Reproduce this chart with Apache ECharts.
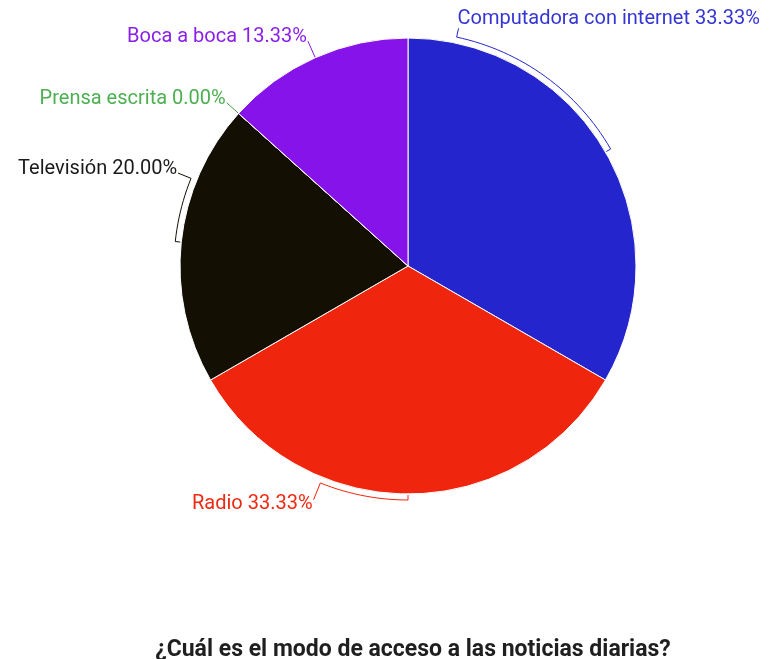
<!DOCTYPE html>
<html>
<head>
<meta charset="utf-8">
<script src="https://cdn.jsdelivr.net/npm/echarts@6/dist/echarts.min.js"></script>
<style>
html,body{margin:0;padding:0;background:#fff;}
#chart{width:778px;height:659px;}
</style>
</head>
<body>
<div id="chart"></div>
<script>
// ---- data ----
const categories = ['Computadora con internet', 'Radio', 'Televisión', 'Prensa escrita', 'Boca a boca'];
const responses = [5, 5, 3, 0, 2];
const sliceColors = ['#2525CE', '#F0250D', '#130F03', '#43A047', '#8614EA'];
const labelColors = ['#3535D4', '#EE2A12', '#1A1A1A', '#4CAF50', '#8A1FEC'];
const titleText = '¿Cuál es el modo de acceso a las noticias diarias?';

// ---- layout constants ----
const CX = 408, CY = 266, R = 228;
const BRACKET_R = 234, TICK_R = 229;
const labelAnchorAngles = [12, 202, 292, null, null]; // where each label attaches (deg clockwise from top), null = slice middle
const labelEndR = [243, 252, 248, 244, 246];

const total = responses.reduce((a, b) => a + b, 0);
const midAngles = [];
(function () {
  let acc = 0;
  responses.forEach(v => {
    const start = acc / total * 360;
    acc += v;
    const end = acc / total * 360;
    midAngles.push((start + end) / 2);
  });
})();

function polar(deg, r) {
  const t = deg * Math.PI / 180;
  return [CX + r * Math.sin(t), CY - r * Math.cos(t)];
}

function guidePoints(i) {
  const m = midAngles[i];
  const a = labelAnchorAngles[i] == null ? m : labelAnchorAngles[i];
  const end = polar(a, labelEndR[i]);
  const pts = [];
  if (Math.abs(a - m) < 0.5) {
    pts.push(polar(m, R));
    pts.push(end);
    return { pts, end, a };
  }
  pts.push(polar(m, TICK_R));
  const steps = Math.max(2, Math.ceil(Math.abs(a - m) / 1.5));
  for (let k = 0; k <= steps; k++) {
    pts.push(polar(m + (a - m) * k / steps, BRACKET_R));
  }
  pts.push(end);
  return { pts, end, a };
}

const seriesData = categories.map((name, i) => ({
  name,
  value: responses[i],
  itemStyle: { color: sliceColors[i] },
  label: { color: labelColors[i] },
  labelLine: { lineStyle: { color: sliceColors[i] } }
}));

const chart = echarts.init(document.getElementById('chart'), null, { renderer: 'canvas' });
chart.setOption({
  animation: false,
  backgroundColor: '#ffffff',
  title: {
    text: titleText,
    left: CX,
    top: 634,
    textAlign: 'center',
    textStyle: { fontFamily: 'Roboto', fontSize: 23, fontWeight: 'bold', color: '#1f1f1f' }
  },
  series: [{
    type: 'pie',
    center: [CX, CY],
    radius: [0, R],
    startAngle: 90,
    clockwise: true,
    avoidLabelOverlap: false,
    minShowLabelAngle: 0,
    itemStyle: { borderColor: '#ffffff', borderWidth: 1 },
    label: {
      show: true,
      fontFamily: 'Roboto',
      fontSize: 20,
      formatter: p => p.name + ' ' + (p.value / total * 100).toFixed(2) + '%'
    },
    labelLine: { show: true, smooth: false, length: 10, length2: 10, lineStyle: { width: 1 } },
    labelLayout: function (params) {
      const i = params.dataIndex;
      const g = guidePoints(i);
      const left = g.end[0] < CX;
      const lower = g.a > 90 && g.a < 270;
      let y;
      if (lower) y = g.end[1] + 4;
      else if (left) y = g.end[1] + 6;
      else y = g.end[1] + 1;
      return {
        x: left ? g.end[0] - 1 : g.end[0] - 1,
        y: y,
        align: left ? 'right' : 'left',
        verticalAlign: lower ? 'middle' : 'bottom',
        labelLinePoints: g.pts
      };
    },
    data: seriesData
  }]
});
</script>
</body>
</html>
